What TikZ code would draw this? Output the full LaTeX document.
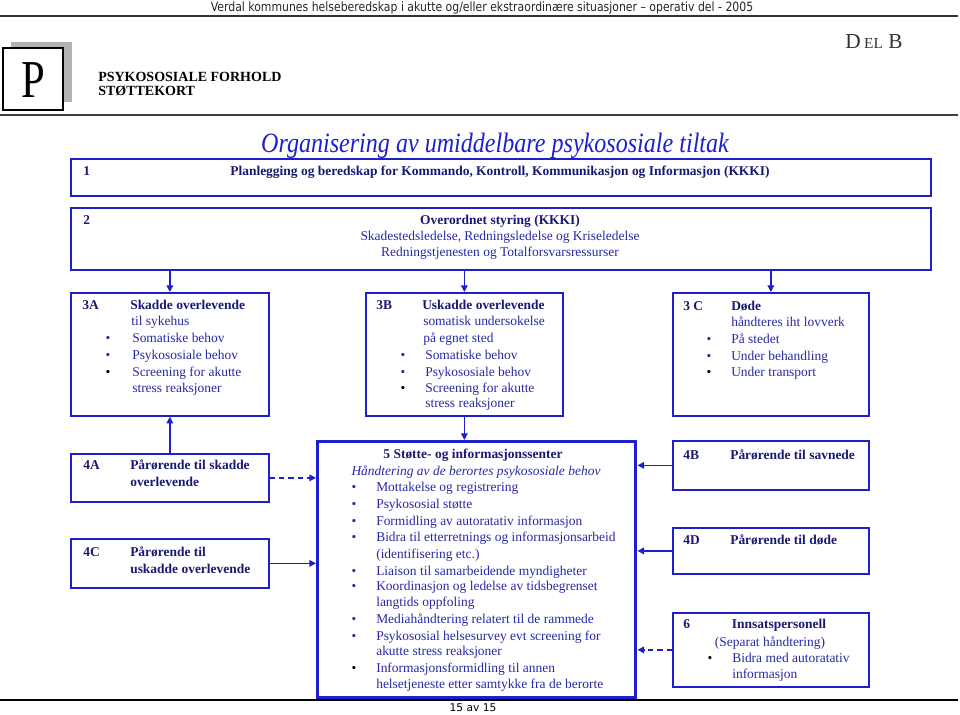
\documentclass[tikz,border=0pt]{standalone}
\usepackage{fontspec}
\setmainfont{Liberation Serif}
\newfontfamily\hdrfont[FakeStretch=0.85]{DejaVu Sans}
\newfontfamily\pagefont{DejaVu Sans}
\newfontfamily\titlefont[FakeStretch=0.86]{Liberation Serif}
\usetikzlibrary{arrows.meta}
\definecolor{boxblue}{RGB}{30,30,205}
\definecolor{txtblue}{RGB}{40,40,165}
\definecolor{lblblue}{RGB}{25,25,115}

\begin{document}
\begin{tikzpicture}[x=0.75pt,y=-0.75pt,
  box/.style 2 args={draw=boxblue,line width=1.3pt,anchor=north west,inner sep=0pt,
    minimum width=#1*0.75pt,minimum height=#2*0.75pt},
  txt/.style={anchor=west,inner sep=0pt,text height=7pt,text depth=2pt,text=txtblue,
    font=\fontsize{10.1}{12}\selectfont},
  lbl/.style={txt,text=lblblue,font=\fontsize{10.1}{12}\selectfont\bfseries},
  bul/.style={txt,anchor=center},
  conn/.style={draw=boxblue,line width=1pt,-{Triangle[length=5pt,width=5pt]}}]
\useasboundingbox (0,0) rectangle (960,714);

% page head
\node[font=\hdrfont\fontsize{9.6}{11}\selectfont,text=black!85] (hdr) at (482,8)
  {Verdal kommunes helseberedskap i akutte og/eller ekstraordinære situasjoner – operativ del - 2005};
\draw[line width=1.5pt,black!80] (0,16) -- (958,16);
\fill[gray!60] (11,42) rectangle (72,102);
\draw[fill=white,line width=0.8pt] (3,48) rectangle (63,110);
\node[font=\fontsize{40}{40}\selectfont,xscale=0.8] (pch) at (33,80) {P};
\node[anchor=west,inner sep=0pt,font=\fontsize{10.5}{12}\selectfont\bfseries] (hd1) at (98,77) {PSYKOSOSIALE FORHOLD};
\node[anchor=west,inner sep=0pt,font=\fontsize{10.5}{12}\selectfont\bfseries] (hd2) at (98,91) {STØTTEKORT};
\node[anchor=base west,inner sep=0pt,text=black!80] (del) at (845,48)
  {\fontsize{16}{16}\selectfont D\,{\fontsize{11.5}{12}\selectfont EL} B};
\draw[line width=2.2pt,black!75] (0,115) -- (958,115);

\node[font=\titlefont\itshape\fontsize{21}{22}\selectfont,text=boxblue] (title) at (495,146)
  {Organisering av umiddelbare psykososiale tiltak};

% boxes
\node[box={860}{37}] (b1) at (70,158) {};
\node[box={860}{62}] (b2) at (70,207) {};
\node[box={198}{123}] (b3a) at (70,292) {};
\node[box={197}{123}] (b3b) at (365,292) {};
\node[box={196}{123}] (b3c) at (672,292) {};
\node[box={198}{48}] (b4a) at (70,453) {};
\node[box={198}{49}] (b4c) at (70,538) {};
\node[box={318}{256},line width=2.6pt] (b5) at (316,440) {};
\node[box={196}{49}] (b4b) at (672,440) {};
\node[box={196}{46}] (b4d) at (672,527) {};
\node[box={196}{74}] (b6) at (672,612) {};

% 1
\node[lbl] at (83,172) {1};
\node[lbl,anchor=center] at (500,172) {Planlegging og beredskap for Kommando, Kontroll, Kommunikasjon og Informasjon (KKKI)};
% 2
\node[lbl] at (83,221) {2};
\node[lbl,anchor=center] at (500,221) {Overordnet styring (KKKI)};
\node[txt,anchor=center] at (500,237) {Skadestedsledelse, Redningsledelse og Kriseledelse};
\node[txt,anchor=center] at (500,253) {Redningstjenesten og Totalforsvarsressurser};

% 3A
\node[lbl] at (82,306) {3A};
\node[lbl] at (130,306) {Skadde overlevende};
\node[txt] at (131,322) {til sykehus};
\node[bul] at (108,339) {•};
\node[txt] at (132,339) {Somatiske behov};
\node[bul] at (108,356) {•};
\node[txt] at (132,356) {Psykososiale behov};
\node[bul,text=black] at (108,373) {•};
\node[txt] at (132,373) {Screening for akutte};
\node[txt] at (132,389) {stress reaksjoner};

% 3B
\node[lbl] at (376,306) {3B};
\node[lbl] at (422,306) {Uskadde overlevende};
\node[txt] at (423,322) {somatisk undersokelse};
\node[txt] at (423,339) {på egnet sted};
\node[bul] at (403,356) {•};
\node[txt] at (425,356) {Somatiske behov};
\node[bul] at (403,373) {•};
\node[txt] at (425,373) {Psykososiale behov};
\node[bul,text=black] at (403,389) {•};
\node[txt] at (425,389) {Screening for akutte};
\node[txt] at (425,404) {stress reaksjoner};

% 3C
\node[lbl] at (683,307) {3 C};
\node[lbl] at (731,307) {Døde};
\node[txt] at (731,323) {håndteres iht lovverk};
\node[bul] at (709,340) {•};
\node[txt] at (731,340) {På stedet};
\node[bul] at (709,357) {•};
\node[txt] at (731,357) {Under behandling};
\node[bul,text=black] at (709,373) {•};
\node[txt] at (731,373) {Under transport};

% 4A, 4C
\node[lbl] at (83,466) {4A};
\node[lbl] at (130,466) {Pårørende til skadde};
\node[lbl] at (130,483) {overlevende};
\node[lbl] at (83,553) {4C};
\node[lbl] at (130,553) {Pårørende til};
\node[lbl] at (130,570) {uskadde overlevende};

% 4B, 4D, 6
\node[lbl] at (683,456) {4B};
\node[lbl] at (730,456) {Pårørende til savnede};
\node[lbl] at (683,541) {4D};
\node[lbl] at (730,541) {Pårørende til døde};
\node[lbl] at (683,625) {6};
\node[lbl,anchor=center] at (779,625) {Innsatspersonell};
\node[txt,anchor=center] at (770,643) {(Separat håndtering)};
\node[bul,text=black] at (710,659) {•};
\node[txt] at (732,659) {Bidra med autoratativ};
\node[txt] at (732,675) {informasjon};

% 5
\node[lbl,anchor=center] at (473,455) {5 Støtte- og informasjonssenter};
\node[txt,anchor=center,font=\fontsize{10.1}{12}\selectfont\itshape] at (476,472) {Håndtering av de berortes psykososiale behov};
\node[bul] at (354,488) {•};
\node[txt] at (376,488) {Mottakelse og registrering};
\node[bul] at (354,505) {•};
\node[txt] at (376,505) {Psykososial støtte};
\node[bul] at (354,522) {•};
\node[txt] at (376,522) {Formidling av autoratativ informasjon};
\node[bul] at (354,538) {•};
\node[txt] at (376,538) {Bidra til etterretnings og informasjonsarbeid};
\node[txt] at (376,555) {(identifisering etc.)};
\node[bul] at (354,572) {•};
\node[txt] at (376,572) {Liaison til samarbeidende myndigheter};
\node[bul] at (354,587) {•};
\node[txt] at (376,587) {Koordinasjon og ledelse av tidsbegrenset};
\node[txt] at (376,603) {langtids oppfoling};
\node[bul] at (354,620) {•};
\node[txt] at (376,620) {Mediahåndtering relatert til de rammede};
\node[bul] at (354,637) {•};
\node[txt] at (376,637) {Psykososial helsesurvey evt screening for};
\node[txt] at (376,652) {akutte stress reaksjoner};
\node[bul,text=black] at (354,669) {•};
\node[txt] at (376,669) {Informasjonsformidling til annen};
\node[txt] at (376,685) {helsetjeneste etter samtykke fra de berorte};

% connectors
\draw[conn] (b2.south -| b3a.north) -- (b3a.north);
\draw[conn] (b2.south -| b3b.north) -- (b3b.north);
\draw[conn] (b2.south -| b3c.north) -- (b3c.north);
\draw[conn] (b3b.south) -- (b3b.south |- b5.north);
\draw[conn] (b4a.north) -- (b3a.south);
\draw[conn,dash pattern=on 4pt off 3pt] (b4a.east) -- (b4a.east -| b5.west);
\draw[conn] (b4c.east) -- (b4c.east -| b5.west);
\draw[conn] (b4b.west) -- (b4b.west -| b5.east);
\draw[conn] (b4d.west) -- (b4d.west -| b5.east);
\draw[conn,dash pattern=on 4pt off 3pt] (b6.west) -- (b6.west -| b5.east);

% page foot
\draw[line width=1pt,black] (0,700) -- (958,700);
\node[font=\pagefont\fontsize{8}{9}\selectfont] (pg) at (473,708) {15 av 15};
\end{tikzpicture}
\end{document}
